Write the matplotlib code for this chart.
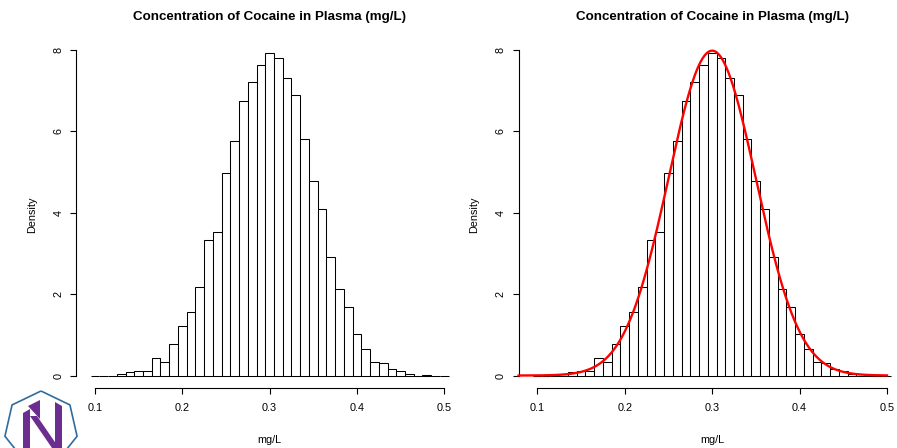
import numpy as np
import matplotlib
matplotlib.use("Agg")
import matplotlib.pyplot as plt
from matplotlib.patches import Polygon

plt.rcParams['font.family'] = ['Liberation Sans', 'DejaVu Sans']

# ---- data ----
bin_start = 0.095
bin_width = 0.01
density = [0.0, 0.0, 0.0,
           0.03, 0.09, 0.11, 0.11, 0.42, 0.34, 0.78, 1.22, 1.56, 2.18,
           3.34, 3.53, 4.98, 5.75, 6.74, 7.20, 7.62, 7.91, 7.81, 7.32,
           6.88, 5.81, 4.79, 4.08, 2.91, 2.12, 1.69, 1.03, 0.65, 0.32,
           0.30, 0.15, 0.12, 0.03, 0.0, 0.01, 0.0, 0.0]
fit_mean = 0.30
fit_sd = 0.05
x_ticks = [0.1, 0.2, 0.3, 0.4, 0.5]
x_tick_labels = ["0.1", "0.2", "0.3", "0.4", "0.5"]
y_ticks = [0, 2, 4, 6, 8]
title = "Concentration of Cocaine in Plasma (mg/L)"
xlabel = "mg/L"
ylabel = "Density"

W, H = 897, 448
fig = plt.figure(figsize=(W / 100, H / 100), dpi=100)

lefts = bin_start + bin_width * np.arange(len(density))
edges_lo, edges_hi = bin_start, bin_start + bin_width * len(density)
span = edges_hi - edges_lo
xlim = (edges_lo - 0.04 * span, edges_hi + 0.04 * span)
ymax = max(density)
ylim = (-0.04 * ymax, 1.04 * ymax)

def px(x0, y0, x1, y1):
    return [x0 / W, 1 - y1 / H, (x1 - x0) / W, (y1 - y0) / H]

panels = [px(76.3, 40.6, 463.0, 388.4), px(518.6, 40.6, 905.7, 388.4)]

for i, rect in enumerate(panels):
    ax = fig.add_axes(rect)
    ax.bar(lefts, density, width=bin_width, align='edge', color='white',
           edgecolor='black', linewidth=0.75, zorder=2)
    if i == 1:
        xs = np.linspace(xlim[0], 0.5, 400)
        ys = np.exp(-0.5 * ((xs - fit_mean) / fit_sd) ** 2) / (fit_sd * np.sqrt(2 * np.pi))
        ax.plot(xs, ys, color='#ff0000', linewidth=1.7, zorder=3, clip_on=False)
    ax.set_xlim(*xlim)
    ax.set_ylim(*ylim)
    for s in ['top', 'right']:
        ax.spines[s].set_visible(False)
    ax.spines['bottom'].set_bounds(0.1, 0.5)
    ax.spines['left'].set_bounds(0, 8)
    for s in ['bottom', 'left']:
        ax.spines[s].set_linewidth(0.8)
    ax.set_xticks(x_ticks)
    ax.set_xticklabels(x_tick_labels)
    ax.set_yticks(y_ticks)
    ax.set_yticklabels([str(v) for v in y_ticks], rotation=90, va='center')
    ax.tick_params(axis='x', direction='out', length=4.3, width=0.8,
                   labelsize=7.8, pad=6.0, colors='black')
    ax.tick_params(axis='y', direction='out', length=4.3, width=0.8,
                   labelsize=7.8, pad=4.8, colors='black')
    ax.set_title(title, fontsize=9.6, fontweight='bold', pad=15)
    ax.set_xlabel(xlabel, fontsize=7.8, labelpad=16)
    ax.set_ylabel(ylabel, fontsize=7.8, labelpad=12)

# ---- logo in bottom-left corner ----
def fpt(x, y):
    return (x / W, 1 - y / H)

cx, cy, r = 41, 428, 37
angs = np.deg2rad(90 + np.arange(7) * 360 / 7)
hept = [fpt(cx + r * np.cos(a), cy - r * np.sin(a)) for a in angs]
fig.patches.append(Polygon(hept, closed=True, fill=False, edgecolor='#2f6c9e',
                           linewidth=1.2, transform=fig.transFigure, clip_on=False))
purple = '#6b2d90'
shapes = [
    [(23, 413), (30, 409), (30, 448), (23, 448)],
    [(28, 406), (40, 400), (40, 419)],
    [(30, 416), (37, 416), (59, 448), (52, 448)],
    [(55, 402), (62, 406), (62, 448), (55, 448)],
]
for sh in shapes:
    fig.patches.append(Polygon([fpt(*p) for p in sh], closed=True, facecolor=purple,
                               edgecolor='none', transform=fig.transFigure))

fig.savefig("out.png", dpi=100)
